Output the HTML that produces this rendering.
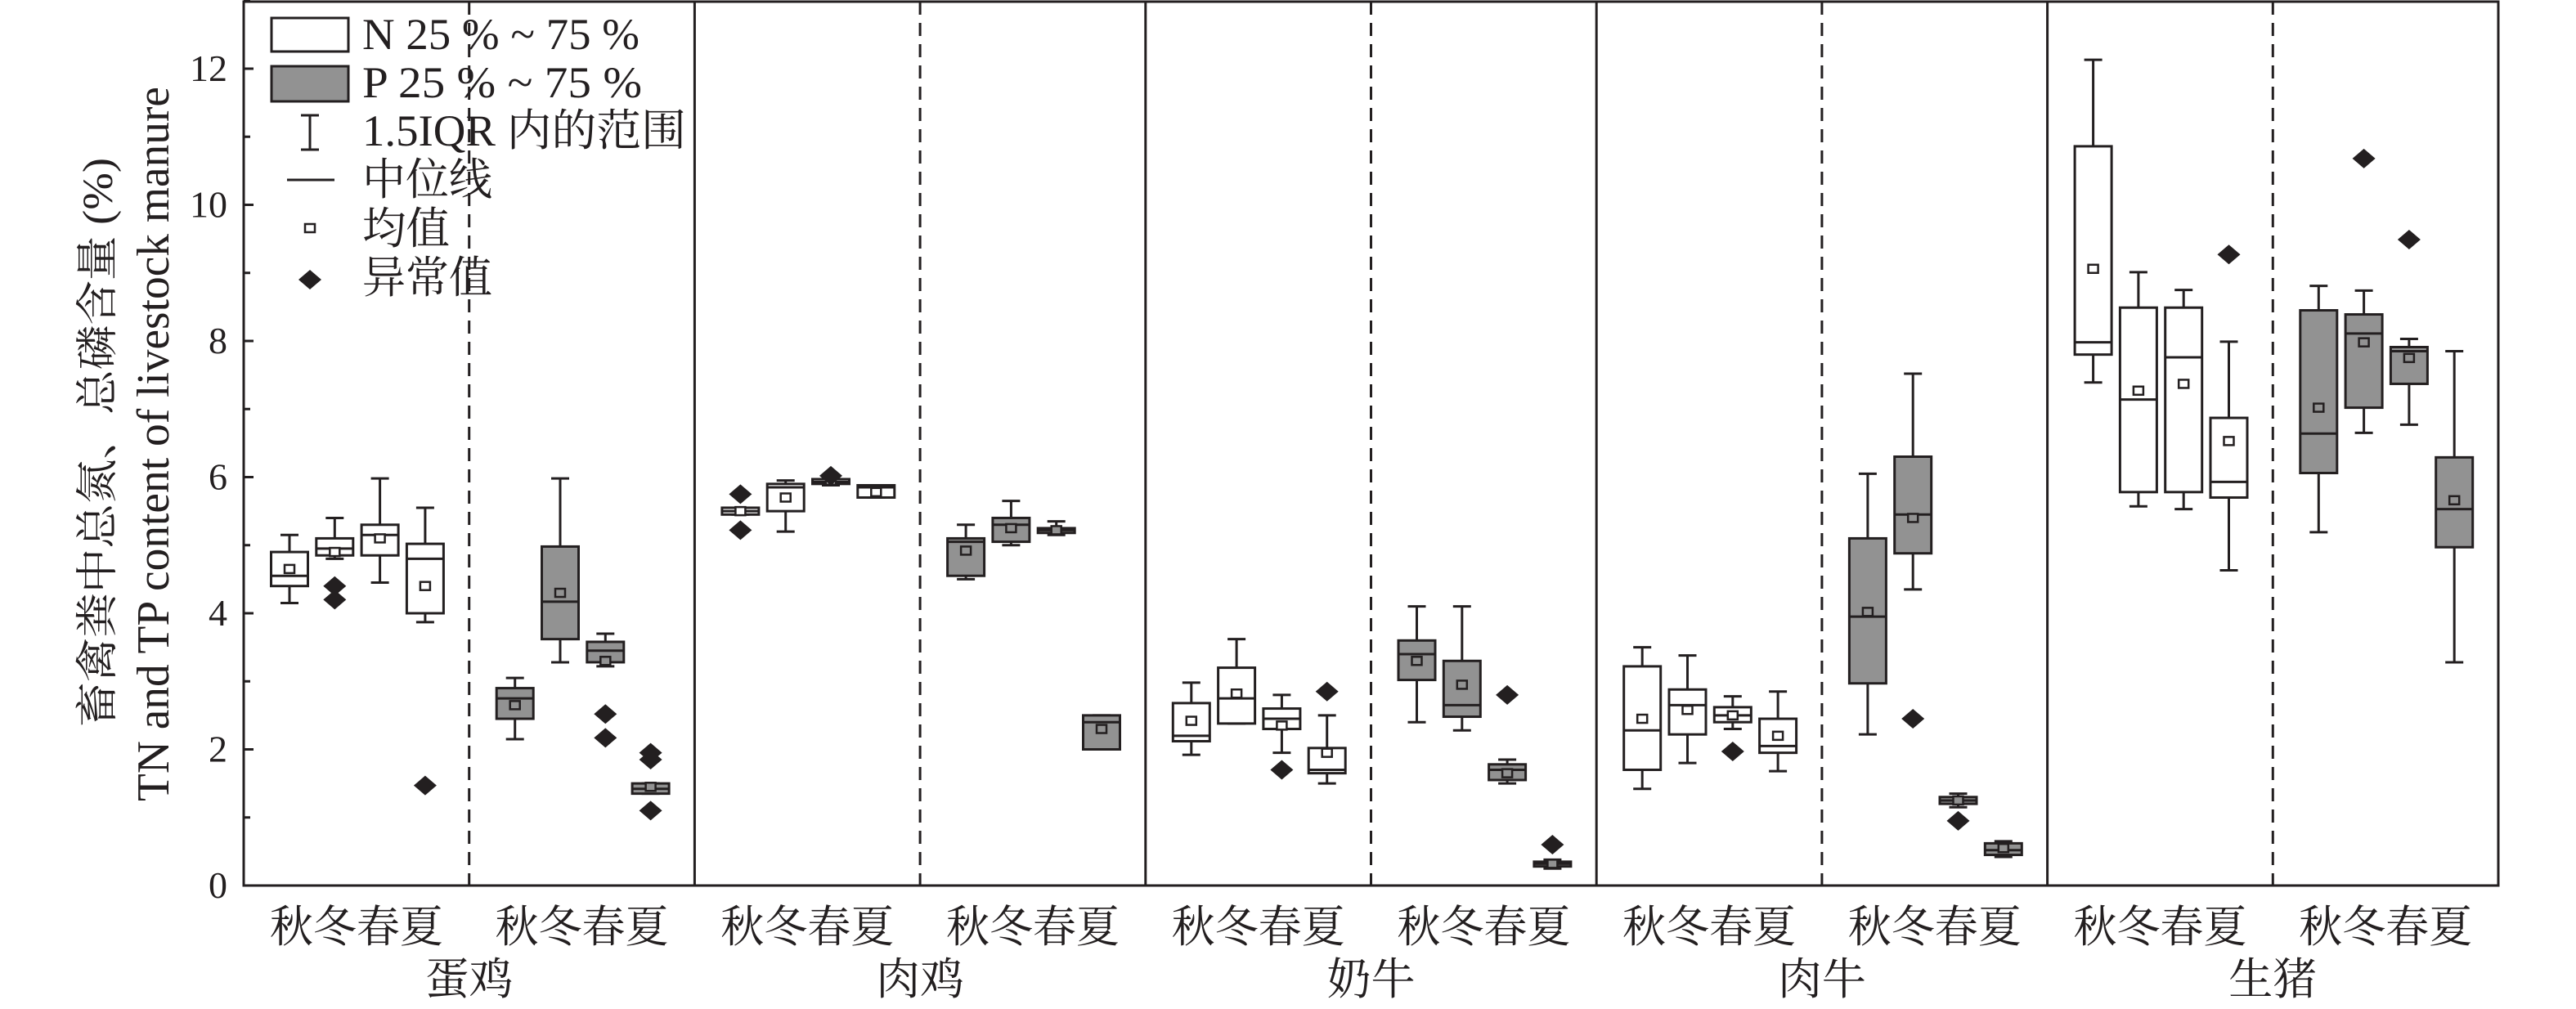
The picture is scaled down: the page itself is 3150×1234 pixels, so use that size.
<!DOCTYPE html>
<html><head><meta charset="utf-8"><style>
html,body{margin:0;padding:0;background:#fff;width:3150px;height:1234px;overflow:hidden}
svg text{font-family:"Liberation Serif","Noto Serif CJK SC",serif;fill:#231f20}
</style></head><body>
<svg id="s" width="3150" height="1234" xmlns="http://www.w3.org/2000/svg">
<g id="g" stroke="#231f20" stroke-width="3" fill="none"></g>
<g id="t"></g>
</svg>
<script>
var NS="http://www.w3.org/2000/svg",g=document.getElementById('g'),tg=document.getElementById('t');
function el(p,tag,a,txt){var e=document.createElementNS(NS,tag);for(var k in a)e.setAttribute(k,a[k]);if(txt!==undefined)e.textContent=txt;p.appendChild(e);return e;}
var L=298,R=3055,T=2,B=1083,k=83.25;
function Y(v){return B-v*k;}
el(g,'rect',{x:L,y:T,width:R-L,height:B-T});
var PW=(R-L)/5;
for(var i=1;i<5;i++)el(g,'line',{x1:L+PW*i,y1:T,x2:L+PW*i,y2:B});
for(var i=0;i<5;i++)el(g,'line',{x1:L+PW*i+PW/2,y1:T,x2:L+PW*i+PW/2,y2:B,'stroke-dasharray':'16,10'});
for(var v=0;v<=13;v++){var y=Y(v);el(g,'line',{x1:L,y1:y,x2:L+(v%2?8:12),y2:y});
 if(v%2==0)el(tg,'text',{x:278,y:y+15,'font-size':46,'text-anchor':'end'},v);}
var D=[
[[4.15,5.15,4.4,4.9,4.55,4.65,[]],[4.8,5.4,4.85,5.1,4.95,4.9,[4.4,4.2]],[4.45,5.98,4.85,5.3,5.15,5.1,[]],[3.87,5.55,4.0,5.02,4.8,4.4,[1.47]]],
[[2.15,3.05,2.45,2.9,2.75,2.65,[]],[3.28,5.98,3.62,4.98,4.17,4.3,[]],[3.22,3.7,3.28,3.58,3.45,3.3,[2.52,2.17]],[1.35,1.5,1.35,1.5,1.42,1.45,[1.95,1.85,1.1]]],
[[5.45,5.55,5.45,5.55,5.5,5.5,[5.75,5.22]],[5.2,5.95,5.5,5.9,5.85,5.7,[]],[5.88,5.97,5.9,5.97,5.93,5.95,[6.02]],[5.7,5.88,5.7,5.88,5.85,5.78,[]]],
[[4.5,5.3,4.55,5.1,5.05,4.92,[]],[5.0,5.65,5.05,5.4,5.3,5.25,[]],[5.15,5.35,5.18,5.25,5.22,5.22,[]],[2.0,2.5,2.0,2.5,2.4,2.3,[]]],
[[1.92,2.98,2.12,2.68,2.2,2.42,[]],[2.38,3.62,2.38,3.2,2.75,2.82,[]],[1.95,2.8,2.3,2.6,2.45,2.35,[1.7]],[1.5,2.5,1.65,2.02,1.7,1.95,[2.85]]],
[[2.4,4.1,3.02,3.6,3.4,3.3,[]],[2.28,4.1,2.48,3.3,2.65,2.95,[]],[1.5,1.85,1.55,1.78,1.7,1.65,[2.8]],[0.25,0.38,0.28,0.35,0.32,0.32,[0.6]]],
[[1.42,3.5,1.7,3.22,2.28,2.45,[]],[1.8,3.38,2.22,2.88,2.65,2.58,[]],[2.3,2.78,2.4,2.62,2.5,2.5,[1.97]],[1.68,2.85,1.95,2.45,2.05,2.2,[]]],
[[2.22,6.05,2.97,5.1,3.95,4.02,[]],[4.35,7.52,4.88,6.3,5.45,5.4,[2.45]],[1.15,1.35,1.2,1.3,1.25,1.25,[0.95]],[0.42,0.65,0.45,0.62,0.52,0.55,[]]],
[[7.39,12.13,7.8,10.86,7.98,9.06,[]],[5.57,9.01,5.78,8.49,7.14,7.27,[]],[5.53,8.75,5.78,8.49,7.76,7.37,[]],[4.63,7.99,5.7,6.87,5.93,6.53,[9.27]]],
[[5.19,8.81,6.06,8.45,6.64,7.02,[]],[6.65,8.74,7.02,8.39,8.11,7.98,[10.68]],[6.77,8.03,7.37,7.91,7.85,7.75,[9.49]],[3.28,7.85,4.97,6.29,5.53,5.66,[]]]
];
function dia(p,cx,cy){el(p,'polygon',{points:(cx-14)+','+cy+' '+cx+','+(cy-12)+' '+(cx+14)+','+cy+' '+cx+','+(cy+12),fill:'#231f20',stroke:'none'});}
for(var h=0;h<10;h++){var xs=L+h*PW/2,fill=h%2?'#929292':'#fff';
 for(var b=0;b<4;b++){var d=D[h][b],cx=xs+56+b*55.3,w=45;
  el(g,'line',{x1:cx,y1:Y(d[1]),x2:cx,y2:Y(d[3])});
  el(g,'line',{x1:cx,y1:Y(d[0]),x2:cx,y2:Y(d[2])});
  el(g,'line',{x1:cx-11,y1:Y(d[1]),x2:cx+11,y2:Y(d[1])});
  el(g,'line',{x1:cx-11,y1:Y(d[0]),x2:cx+11,y2:Y(d[0])});
  el(g,'rect',{x:cx-w/2,y:Y(d[3]),width:w,height:Math.max(Y(d[2])-Y(d[3]),2),fill:fill});
  el(g,'line',{x1:cx-w/2,y1:Y(d[4]),x2:cx+w/2,y2:Y(d[4])});
  el(g,'rect',{x:cx-6,y:Y(d[5])-5,width:12,height:10,fill:fill,'stroke-width':2.5});
  d[6].forEach(function(o){dia(g,cx,Y(o));});
 }
 el(tg,'text',{x:xs+PW/4-106,y:1152,'font-size':54,textLength:212,lengthAdjust:'spacingAndGlyphs'},'秋冬春夏');
}
var names=['蛋鸡','肉鸡','奶牛','肉牛','生猪'];
for(var i=0;i<5;i++)el(tg,'text',{x:L+PW*i+PW/2,y:1216,'font-size':54,'text-anchor':'middle'},names[i]);
el(g,'rect',{x:332,y:22,width:94,height:41,fill:'#fff'});
el(g,'rect',{x:332,y:81,width:94,height:43,fill:'#929292'});
el(g,'line',{x1:379,y1:141,x2:379,y2:183});el(g,'line',{x1:368,y1:141,x2:390,y2:141});el(g,'line',{x1:368,y1:183,x2:390,y2:183});
el(g,'line',{x1:351,y1:220,x2:409,y2:220});
el(g,'rect',{x:373,y:274,width:12,height:10,'stroke-width':2.5});
dia(g,379,342);
var lt=['N 25 % ~ 75 %','P  25 % ~ 75 %','1.5IQR 内的范围','中位线','均值','异常值'],ly=[60,119,178,238,298,358],lw=[339,342,396,159,107,159];
for(var i=0;i<6;i++)el(tg,'text',{x:443,y:ly[i],'font-size':54,textLength:lw[i],lengthAdjust:'spacingAndGlyphs'},lt[i]);
el(tg,'text',{transform:'translate(137,541) rotate(-90)','font-size':52,'text-anchor':'middle',textLength:696,lengthAdjust:'spacingAndGlyphs'},'畜禽粪中总氮、总磷含量 (%)');
el(tg,'text',{transform:'translate(206,543) rotate(-90)','font-size':56,'text-anchor':'middle',textLength:874,lengthAdjust:'spacingAndGlyphs'},'TN and TP content of livestock manure');
</script>
</body></html>
